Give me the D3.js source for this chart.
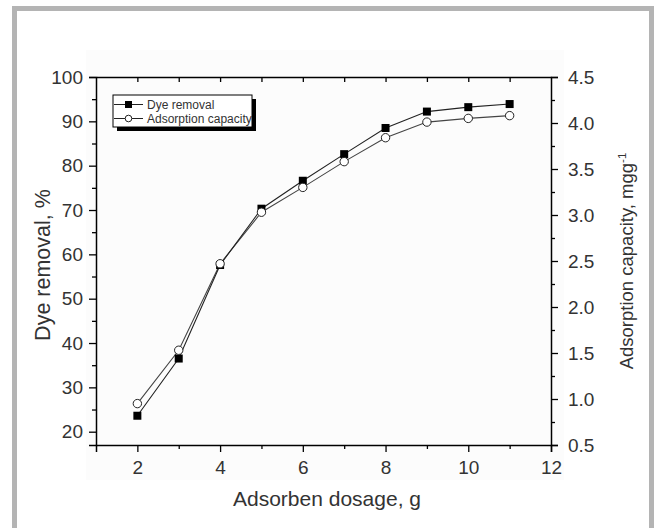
<!DOCTYPE html>
<html>
<head>
<meta charset="utf-8">
<script src="https://cdn.jsdelivr.net/npm/d3@7"></script>
<style>
  html, body { margin: 0; padding: 0; background: #fff; }
  svg { display: block; font-family: "Liberation Sans", Arial, sans-serif; }
</style>
</head>
<body>
<svg id="chart" width="654" height="528"></svg>
<script>
// Adsorbent dosage (g)
const dosage = [2, 3, 4, 5, 6, 7, 8, 9, 10, 11];
// Dye removal, % (left axis)
const dyeRemoval = [23.6, 36.5, 57.6, 70.3, 76.6, 82.6, 88.5, 92.2, 93.2, 93.9];
// Adsorption capacity, mg/g (right axis)
const adsorptionCapacity = [0.95, 1.53, 2.47, 3.03, 3.30, 3.58, 3.84, 4.01, 4.05, 4.08];

const xMajorTicks = [2, 4, 6, 8, 10, 12];
const xMinorTicks = [3, 5, 7, 9, 11];
const leftMajorTicks = [20, 30, 40, 50, 60, 70, 80, 90, 100];
const leftMinorTicks = [25, 35, 45, 55, 65, 75, 85, 95];
const rightMajorTicks = [0.5, 1.0, 1.5, 2.0, 2.5, 3.0, 3.5, 4.0, 4.5];
const rightMinorTicks = [0.75, 1.25, 1.75, 2.25, 2.75, 3.25, 3.75, 4.25];
const topTicks = [2, 3, 4, 5, 6, 7, 8, 9, 10, 11];

const svg = d3.select("#chart");
const plot = { left: 96, right: 551, top: 77, bottom: 445 };

const x = d3.scaleLinear().domain([1, 12]).range([plot.left, plot.right]);
const yL = d3.scaleLinear().domain([17, 100]).range([plot.bottom, plot.top]);
const yR = d3.scaleLinear().domain([0.5, 4.5]).range([plot.bottom, plot.top]);

// outer panel border
svg.append("rect")
  .attr("x", 14.5).attr("y", 8.5).attr("width", 637).attr("height", 600)
  .attr("fill", "#fff").attr("stroke", "#b4b4b4").attr("stroke-width", 5);

// faint backdrop behind the plot
svg.append("rect")
  .attr("x", 86).attr("y", 50).attr("width", 478).attr("height", 430)
  .attr("fill", "#fcfcfc");

const textColor = "#333";

function styleAxis(g) {
  g.selectAll("path.domain").attr("stroke", "#000").attr("stroke-width", 1.5);
  g.selectAll(".tick line").attr("stroke", "#000").attr("stroke-width", 1.3);
  g.selectAll(".tick text").attr("fill", textColor)
    .style("font-size", "19px").style("font-family", "'Liberation Sans', Arial, sans-serif");
}

// bottom axis
const gB = svg.append("g").attr("transform", `translate(0,${plot.bottom})`)
  .call(d3.axisBottom(x).tickValues(xMajorTicks).tickSize(7).tickPadding(6).tickFormat(d3.format("d")));
styleAxis(gB);
gB.selectAll(".tick text").attr("dy", "0.85em");
const gBm = svg.append("g").attr("transform", `translate(0,${plot.bottom})`)
  .call(d3.axisBottom(x).tickValues(xMinorTicks).tickSize(4).tickFormat(""));
styleAxis(gBm);
gBm.select("path.domain").remove();

// top axis, ticks pointing inward
const gT = svg.append("g").attr("transform", `translate(0,${plot.top})`)
  .call(d3.axisTop(x).tickValues(topTicks).tickSizeInner(-5).tickSizeOuter(0).tickFormat(""));
styleAxis(gT);

// left axis
const gL = svg.append("g").attr("transform", `translate(${plot.left},0)`)
  .call(d3.axisLeft(yL).tickValues(leftMajorTicks).tickSize(7).tickPadding(6).tickFormat(d3.format("d")));
styleAxis(gL);
const gLm = svg.append("g").attr("transform", `translate(${plot.left},0)`)
  .call(d3.axisLeft(yL).tickValues(leftMinorTicks).tickSize(4).tickFormat(""));
styleAxis(gLm);
gLm.select("path.domain").remove();

// right axis
const gR = svg.append("g").attr("transform", `translate(${plot.right},0)`)
  .call(d3.axisRight(yR).tickValues(rightMajorTicks).tickSize(7).tickPadding(10).tickFormat(d3.format(".1f")));
styleAxis(gR);
const gRm = svg.append("g").attr("transform", `translate(${plot.right},0)`)
  .call(d3.axisRight(yR).tickValues(rightMinorTicks).tickSize(4).tickFormat(""));
styleAxis(gRm);
gRm.select("path.domain").remove();

// axis titles
svg.append("text")
  .attr("x", 327).attr("y", 506).attr("text-anchor", "middle")
  .attr("fill", textColor).style("font-size", "21px")
  .text("Adsorben dosage, g");

svg.append("text")
  .attr("transform", `translate(50,${(plot.top + plot.bottom) / 2 + 4}) rotate(-90)`)
  .attr("text-anchor", "middle")
  .attr("fill", textColor).style("font-size", "21.5px")
  .text("Dye removal, %");

const rt = svg.append("text")
  .attr("transform", `translate(633,${(plot.top + plot.bottom) / 2}) rotate(-90)`)
  .attr("text-anchor", "middle")
  .attr("fill", textColor).style("font-size", "18.5px");
rt.append("tspan").text("Adsorption capacity, mgg");
rt.append("tspan").attr("dy", -7).style("font-size", "11.5px").text("-1");

// series lines
const dyePts = dosage.map((d, i) => [x(d), yL(dyeRemoval[i])]);
const capPts = dosage.map((d, i) => [x(d), yR(adsorptionCapacity[i])]);
const line = d3.line();

svg.append("path").attr("d", line(capPts))
  .attr("fill", "none").attr("stroke", "#444").attr("stroke-width", 1.1);
svg.append("path").attr("d", line(dyePts))
  .attr("fill", "none").attr("stroke", "#222").attr("stroke-width", 1.1);

// markers
const sq = 8;
svg.selectAll("rect.dye").data(dyePts).join("rect")
  .attr("class", "dye")
  .attr("x", d => d[0] - sq / 2).attr("y", d => d[1] - sq / 2)
  .attr("width", sq).attr("height", sq).attr("fill", "#000");

svg.selectAll("circle.cap").data(capPts).join("circle")
  .attr("class", "cap")
  .attr("cx", d => d[0]).attr("cy", d => d[1]).attr("r", 4.2)
  .attr("fill", "#fff").attr("stroke", "#222").attr("stroke-width", 1);

// legend
const lg = { x: 113, y: 95, w: 139, h: 32 };
svg.append("rect")
  .attr("x", lg.x + 4).attr("y", lg.y + 4).attr("width", lg.w).attr("height", lg.h)
  .attr("fill", "#000");
svg.append("rect")
  .attr("x", lg.x).attr("y", lg.y).attr("width", lg.w).attr("height", lg.h)
  .attr("fill", "#fff").attr("stroke", "#000").attr("stroke-width", 1);

const legendItems = [
  { label: "Dye removal", kind: "square", y: lg.y + 9.5 },
  { label: "Adsorption capacity", kind: "circle", y: lg.y + 23.5 }
];
legendItems.forEach(it => {
  svg.append("line")
    .attr("x1", lg.x + 1).attr("x2", lg.x + 30)
    .attr("y1", it.y).attr("y2", it.y)
    .attr("stroke", "#222").attr("stroke-width", 1);
  if (it.kind === "square") {
    svg.append("rect")
      .attr("x", lg.x + 15.5 - 3.5).attr("y", it.y - 3.5)
      .attr("width", 7).attr("height", 7).attr("fill", "#000");
  } else {
    svg.append("circle")
      .attr("cx", lg.x + 15.5).attr("cy", it.y).attr("r", 3.3)
      .attr("fill", "#fff").attr("stroke", "#222").attr("stroke-width", 1);
  }
  svg.append("text")
    .attr("x", lg.x + 34).attr("y", it.y + 4.3)
    .attr("fill", textColor).style("font-size", "12px")
    .text(it.label);
});
</script>
</body>
</html>
